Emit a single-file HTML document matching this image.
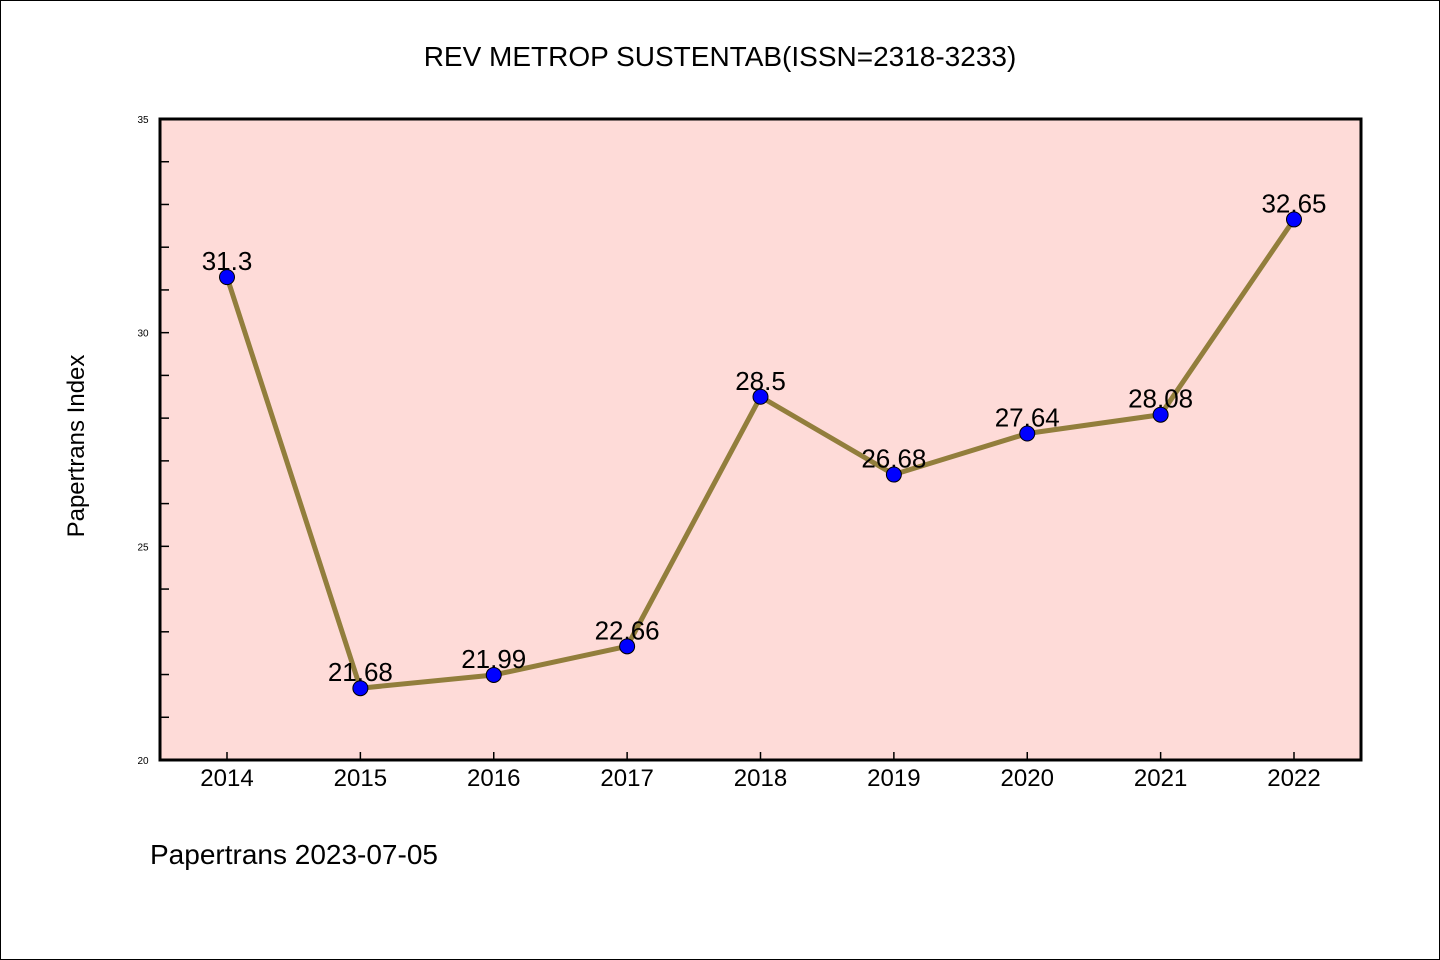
<!DOCTYPE html>
<html><head><meta charset="utf-8"><style>
body{margin:0;background:#fff}
svg{display:block;font-family:"Liberation Sans","Noto Sans CJK SC",sans-serif}
</style></head><body>
<svg width="1440" height="960" viewBox="0 0 1440 960">
<rect x="0.5" y="0.5" width="1439" height="959" fill="#fff" stroke="#000"/>
<text x="720" y="66" text-anchor="middle" font-size="28">REV METROP SUSTENTAB(ISSN=2318-3233)</text>
<rect x="160" y="119" width="1201" height="641" fill="#fedbd8"/>
<g id="axes"></g>
<path id="line" fill="none" stroke="#927e3c" stroke-width="5" stroke-linejoin="round"/>
<g id="marks"></g>
<rect x="160" y="119" width="1201" height="641" fill="none" stroke="#000" stroke-width="3"/>
<text transform="translate(84,446) rotate(-90)" text-anchor="middle" font-size="24">Papertrans Index</text>
<text x="150" y="864" font-size="28">Papertrans 2023-07-05</text>
</svg>
<script>
const years=["2014","2015","2016","2017","2018","2019","2020","2021","2022"];
const values=[31.3,21.68,21.99,22.66,28.5,26.68,27.64,28.08,32.65];
const valueLabels=["31.3","21.68","21.99","22.66","28.5","26.68","27.64","28.08","32.65"];
const yTickLabels=[20,25,30,35];
const NS="http://www.w3.org/2000/svg";
const x=i=>227+i*(1294-227)/(years.length-1);
const y=v=>760-(v-20)*641/15;
function mk(t,a,p){const e=document.createElementNS(NS,t);for(const k in a)e.setAttribute(k,a[k]);p.appendChild(e);return e;}
const axes=document.getElementById('axes'),marks=document.getElementById('marks');
for(let v=21;v<35;v++){const e=mk('line',{x1:160,x2:169,y1:y(v),y2:y(v),stroke:'#000','stroke-width':1.5},axes);

}
yTickLabels.forEach(v=>{const t=mk('text',{x:143,y:y(v)+4,'text-anchor':'middle','font-size':10},axes);t.textContent=v;

});
years.forEach((yr,i)=>{const l=mk('line',{x1:x(i),x2:x(i),y1:752,y2:760,stroke:'#000','stroke-width':1.5},axes);


const t=mk('text',{x:x(i),y:786,'text-anchor':'middle','font-size':24},axes);t.textContent=yr;

});
document.getElementById('line').setAttribute('d',values.map((v,i)=>(i?'L':'M')+x(i)+' '+y(v)).join(''));
values.forEach((v,i)=>{const t=mk('text',{x:x(i),y:y(v)-7,'text-anchor':'middle','font-size':26},marks);t.textContent=valueLabels[i];


const c=mk('circle',{cx:x(i),cy:y(v),r:7.5,fill:'#0000ff',stroke:'#000','stroke-width':1},marks);

});
</script>
</body></html>
